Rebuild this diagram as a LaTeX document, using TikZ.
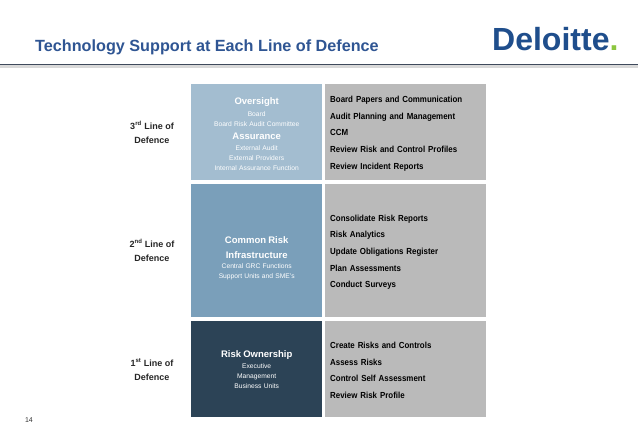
\documentclass[tikz,border=0pt]{standalone}
\usepackage{fontspec}
\setmainfont{Liberation Sans}
\newfontfamily\condfont[FakeStretch=0.9]{Liberation Sans}
\definecolor{titleblue}{HTML}{2F5593}
\definecolor{boxa}{HTML}{A3BDD0}
\definecolor{boxb}{HTML}{7A9FBA}
\definecolor{boxc}{HTML}{2C4356}
\definecolor{boxg}{HTML}{BABABA}
\definecolor{rulec}{HTML}{3F4A5C}
\definecolor{logoblue}{HTML}{1F4E8C}
\definecolor{logogreen}{HTML}{8CC63F}
\newcommand{\hdtext}{\fontsize{9.5}{10}\selectfont\bfseries}
\tikzset{
 x=1pt,y=-1pt,
 tierbox/.style={anchor=north west,inner sep=0pt,minimum width=131pt},
 actbox/.style={anchor=north west,inner sep=0pt,minimum width=161pt,fill=boxg},
 tier/.style={inner sep=0pt,text width=131pt,align=center,text=white,font=\fontsize{6.7}{10}\selectfont},
 act/.style={inner sep=0pt,text width=151pt,align=left,font=\condfont\fontsize{8.8}{16.6}\selectfont\bfseries},
 lvl/.style={align=center,font=\fontsize{9}{14}\selectfont\bfseries,inner sep=0pt,text=black!85}
}
\begin{document}
\begin{tikzpicture}
\useasboundingbox (0,0) rectangle (638,442);
\fill[white] (0,0) rectangle (638,442);
\node[anchor=west,inner sep=0pt,text=titleblue,font=\fontsize{16.2}{18}\selectfont\bfseries] (title) at (35,47) {Technology Support at Each Line of Defence};
\node[anchor=west,inner sep=0pt,text=logoblue,font=\fontsize{32}{34}\selectfont\bfseries] (logo) at (492,39) {Deloitte\textcolor{logogreen}{.}};
\fill[black!15] (0,65) rectangle (638,67.5);
\draw[rulec,line width=1.2pt] (0,64.5) -- (638,64.5);
\node[tierbox,fill=boxa,minimum height=96pt] (a) at (191,84) {};
\node[tierbox,fill=boxb,minimum height=133pt] (b) at (191,184) {};
\node[tierbox,fill=boxc,minimum height=96pt] (c) at (191,321) {};
\node[actbox,minimum height=96pt] (d) at (325,84) {};
\node[actbox,minimum height=133pt] (e) at (325,184) {};
\node[actbox,minimum height=96pt] (f) at (325,321) {};
\node[tier] (at) at ([yshift=-1.5pt]a.center) {{\hdtext Oversight}\\[2pt]Board\\{Board Risk Audit Committee}\\[3pt]{\hdtext Assurance}\\[1pt]External Audit\\External Providers\\Internal Assurance Function};
\node[tier] (bt) at ([yshift=-8pt]b.center) {{\hdtext Common Risk}\\[5pt]{\hdtext Infrastructure}\\Central GRC Functions\\Support Units and SME's};
\node[tier] (ct) at (c.center) {{\hdtext Risk Ownership}\\[1pt]Executive\\Management\\Business Units};
\node[act] (dt) at ([yshift=-1.5pt]d.center) {Board Papers and Communication\\Audit Planning and Management\\CCM\\Review Risk and Control Profiles\\Review Incident Reports};
\node[act] (et) at ([yshift=-1.5pt]e.center) {Consolidate Risk Reports\\Risk Analytics\\Update Obligations Register\\Plan Assessments\\Conduct Surveys};
\node[act] (ft) at ([yshift=-1pt]f.center) {Create Risks and Controls\\Assess Risks\\Control Self Assessment\\Review Risk Profile};
\node[lvl] (l3) at (152,132) {3\textsuperscript{rd} Line of\\Defence};
\node[lvl] (l2) at (152,250) {2\textsuperscript{nd} Line of\\Defence};
\node[lvl] (l1) at (152,369.5) {1\textsuperscript{st} Line of\\Defence};
\node[inner sep=0pt,font=\fontsize{7}{9}\selectfont,text=black!80] (n) at (29,420) {14};
\end{tikzpicture}
\end{document}
